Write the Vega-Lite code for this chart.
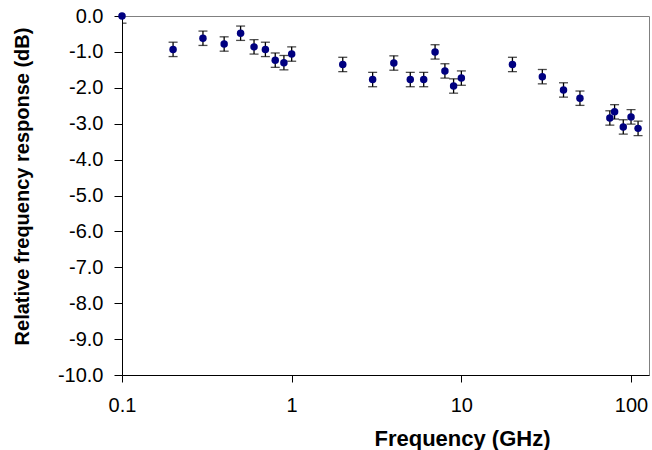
{
  "$schema": "https://vega.github.io/schema/vega-lite/v6.json",
  "autosize": "none",
  "width": 527,
  "height": 359,
  "padding": {"left": 122, "top": 16, "right": 3, "bottom": 75},
  "background": "white",
  "config": {
    "font": "Liberation Sans",
    "view": {"stroke": "#808080", "strokeWidth": 1}
  },
  "data": {
    "values": [
      {"freq": 0.1, "db": 0.0, "err": 0.2},
      {"freq": 0.2, "db": -0.93, "err": 0.2},
      {"freq": 0.3, "db": -0.62, "err": 0.2},
      {"freq": 0.4, "db": -0.78, "err": 0.2},
      {"freq": 0.5, "db": -0.48, "err": 0.2},
      {"freq": 0.6, "db": -0.86, "err": 0.2},
      {"freq": 0.7, "db": -0.93, "err": 0.2},
      {"freq": 0.8, "db": -1.23, "err": 0.2},
      {"freq": 0.9, "db": -1.3, "err": 0.2},
      {"freq": 1.0, "db": -1.06, "err": 0.2},
      {"freq": 2, "db": -1.35, "err": 0.2},
      {"freq": 3, "db": -1.77, "err": 0.2},
      {"freq": 4, "db": -1.31, "err": 0.2},
      {"freq": 5, "db": -1.77, "err": 0.2},
      {"freq": 6, "db": -1.77, "err": 0.2},
      {"freq": 7, "db": -1.0, "err": 0.2},
      {"freq": 8, "db": -1.53, "err": 0.2},
      {"freq": 9, "db": -1.95, "err": 0.2},
      {"freq": 10, "db": -1.73, "err": 0.2},
      {"freq": 20, "db": -1.35, "err": 0.2},
      {"freq": 30, "db": -1.69, "err": 0.2},
      {"freq": 40, "db": -2.06, "err": 0.2},
      {"freq": 50, "db": -2.29, "err": 0.2},
      {"freq": 75, "db": -2.84, "err": 0.2},
      {"freq": 80, "db": -2.67, "err": 0.2},
      {"freq": 90, "db": -3.09, "err": 0.2},
      {"freq": 100, "db": -2.81, "err": 0.2},
      {"freq": 110, "db": -3.13, "err": 0.2}
    ]
  },
  "encoding": {
    "x": {
      "field": "freq",
      "type": "quantitative",
      "scale": {"type": "log", "domain": [0.1, 127.6], "nice": false},
      "axis": {
        "values": [0.1, 1, 10, 100],
        "format": "~g",
        "grid": false,
        "domainColor": "black",
        "tickColor": "black",
        "tickSize": 7,
        "labelFontSize": 20,
        "labelColor": "black",
        "labelPadding": 13,
        "labelFlush": false,
        "labelOverlap": false,
        "title": "Frequency (GHz)",
        "titleFontSize": 22,
        "titleFontWeight": "bold",
        "titleColor": "black",
        "titleX": 340,
        "titleY": 70,
        "titleBaseline": "alphabetic"
      }
    },
    "y": {
      "field": "db",
      "type": "quantitative",
      "scale": {"domain": [-10, 0], "nice": false, "zero": false},
      "axis": {
        "values": [-10, -9, -8, -7, -6, -5, -4, -3, -2, -1, 0],
        "labelExpr": "(datum.value < 0 ? '-' : '') + format(abs(datum.value), '.1f')",
        "grid": false,
        "domainColor": "black",
        "tickColor": "black",
        "tickSize": 8,
        "labelFontSize": 20,
        "labelColor": "black",
        "labelPadding": 11,
        "labelFlush": false,
        "labelOverlap": false,
        "title": "Relative frequency response (dB)",
        "titleFontSize": 20,
        "titleFontWeight": "bold",
        "titleColor": "black",
        "titleX": -100,
        "titleY": 170,
        "titleBaseline": "middle"
      }
    }
  },
  "layer": [
    {
      "mark": {
        "type": "errorbar",
        "color": "black",
        "thickness": 1.3,
        "ticks": {"size": 9, "thickness": 1.3},
        "clip": true
      },
      "encoding": {
        "yError": {"field": "err"}
      }
    },
    {
      "mark": {"type": "circle", "size": 56, "color": "#000080", "opacity": 1},
      "encoding": {}
    }
  ]
}
